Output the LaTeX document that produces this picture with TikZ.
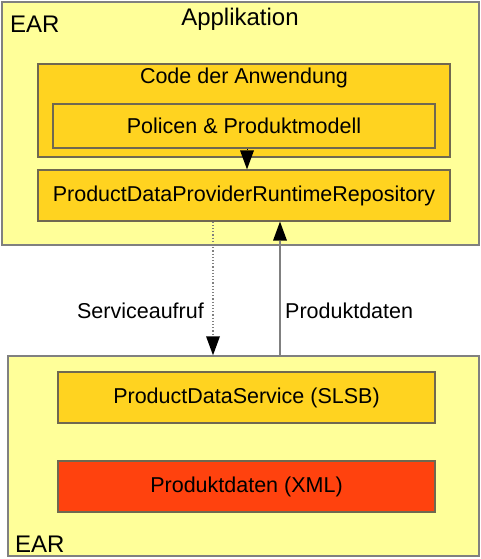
\documentclass[tikz,border=0pt]{standalone}
\usepackage{fontspec}
\setmainfont{Liberation Sans}
\usetikzlibrary{arrows.meta}
\definecolor{lightyel}{HTML}{FFFF99}
\definecolor{darkyel}{HTML}{FFD320}
\definecolor{redor}{HTML}{FF420E}
\definecolor{bordergray}{HTML}{808080}
\definecolor{innerborder}{HTML}{706850}
\tikzset{
  container/.style={draw=bordergray, line width=1.5pt, fill=lightyel, inner sep=0pt},
  inbox/.style={draw=innerborder, line width=1.2pt, fill=darkyel, inner sep=0pt, font=\fontsize{21.5}{24}\selectfont},
  redbox/.style={inbox, fill=redor},
  title/.style={font=\fontsize{24}{28}\selectfont, inner sep=0pt, anchor=base},
  lbl/.style={font=\fontsize{21.5}{24}\selectfont, inner sep=0pt, anchor=base},
  bigarrow/.style={-{Triangle[length=19pt,width=14pt,color=black,fill=black,line width=0pt]}},
}
\begin{document}
\begin{tikzpicture}[x=1pt,y=-1pt]
\useasboundingbox (0,0) rectangle (481,559);
% top EAR
\node[container, minimum width=477pt, minimum height=243pt] (ear1) at (240.5,123.5) {};
\node[title] (app) at (240,26) {Applikation};
\node[title, anchor=base west] (eartop) at (10,33) {EAR};
\node[inbox, minimum width=412pt, minimum height=93pt] (code) at (244,110.5) {};
\node[lbl] (codelbl) at (244,83.5) {Code der Anwendung};
\node[inbox, minimum width=382pt, minimum height=44pt] (pol) at (244,126) {Policen \& Produktmodell};
\node[inbox, minimum width=412pt, minimum height=51pt] (pdp) at (244,195.5) {ProductDataProviderRuntimeRepository};
% bottom EAR
\node[container, minimum width=471pt, minimum height=200pt] (ear2) at (243.5,456) {};
\node[title, anchor=base west] (earbot) at (15,552) {EAR};
\node[inbox, minimum width=377pt, minimum height=51pt] (pds) at (246.5,397.5) {ProductDataService (SLSB)};
\node[redbox, minimum width=377pt, minimum height=51pt] (xml) at (246.5,486.5) {Produktdaten (XML)};
% connectors
\draw[bigarrow, black, line width=0.8pt] ([xshift=3pt]pol.south) -- ([xshift=3pt]pdp.north);
\draw[bigarrow, draw=bordergray, line width=1.2pt, dotted] (pdp.south -| 213,0) -- (ear2.north -| 213,0);
\draw[bigarrow, draw=bordergray, line width=1.2pt] (ear2.north -| 280,0) -- (pdp.south -| 280,0);
\node[lbl, anchor=base east] (svc) at (204,318) {Serviceaufruf};
\node[lbl, anchor=base west] (pd) at (285,318) {Produktdaten};
\end{tikzpicture}
\end{document}
